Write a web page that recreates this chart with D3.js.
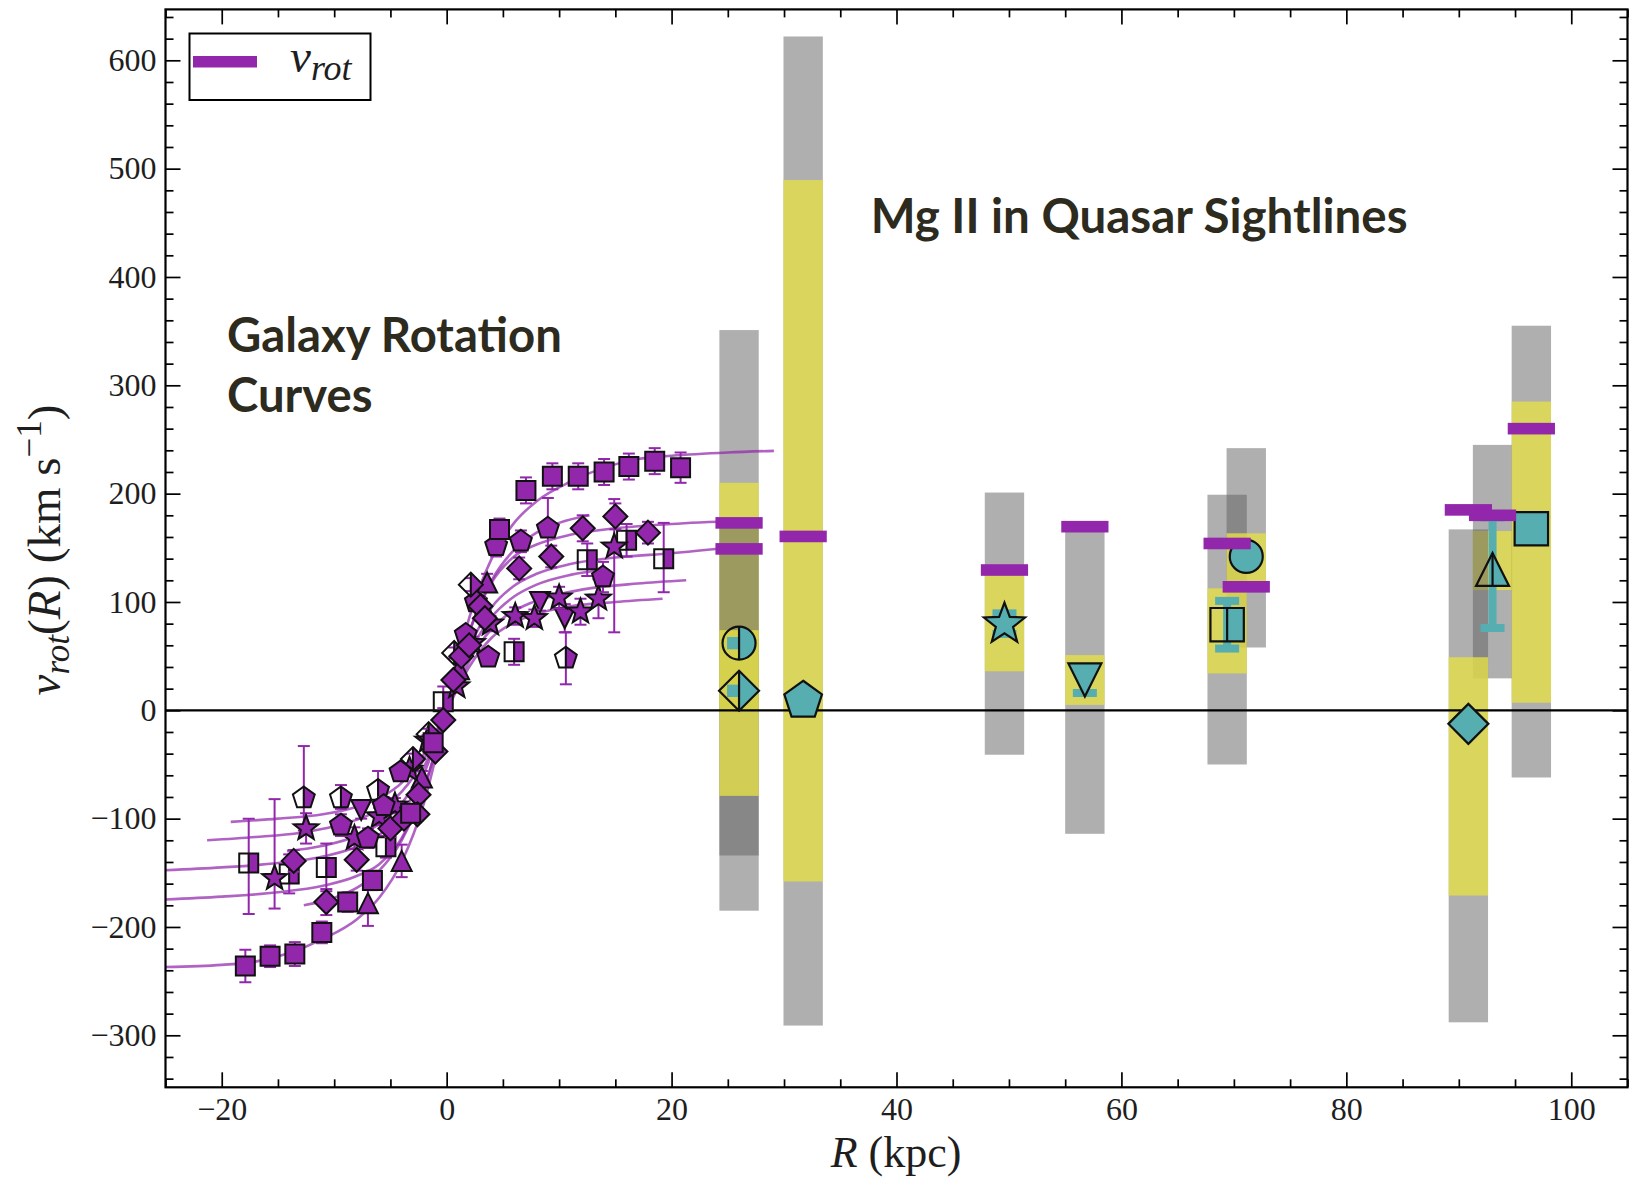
<!DOCTYPE html>
<html>
<head>
<meta charset="utf-8">
<title>Rotation velocity versus radius</title>
<script src="https://cdn.jsdelivr.net/npm/d3@7/dist/d3.min.js"></script>
<style>
  html, body { margin: 0; padding: 0; background: #ffffff; }
  svg { display: block; }
</style>
</head>
<body>
<svg id="chart" width="1633" height="1178"></svg>
<script>
// ---------------- axes ----------------
const xDomain = [-25, 105];
const yDomain = [-348, 647];
const xTickValues = [-20, 0, 20, 40, 60, 80, 100];
const xTickLabels = ["−20", "0", "20", "40", "60", "80", "100"];
const yTickValues = [-300, -200, -100, 0, 100, 200, 300, 400, 500, 600];
const yTickLabels = ["−300", "−200", "−100", "0", "100", "200", "300", "400", "500", "600"];

// ---------------- fitted rotation-curve models [R (kpc), v (km/s)] ----------------
const fitSquares = [[-25,-237],[-20,-235],[-17,-232],[-14,-224],[-11,-211],[-8,-193],[-6,-173],[-4,-140],[-2,-85],[0,0],[2,85],[4,140],[6,173],[8,193],[11,211],[14,224],[17,232],[20,235],[25,238],[29.1,239.5]];
const fitDiamonds = [[-26,-175],[-20,-172],[-15,-168],[-11,-162],[-8,-153],[-6,-142],[-4,-118],[-2,-72],[0,0],[2,72],[4,118],[6,142],[8,153],[11,162],[15,168],[20,172],[26,175]];
const fitOpenSquares = [[-26,-148],[-20,-145],[-15,-141],[-11,-135],[-8,-126],[-6,-115],[-4,-95],[-2,-58],[0,0],[2,58],[4,95],[6,115],[8,126],[11,135],[15,141],[20,145],[25,150]];
const fitStars = [[-21.3,-120],[-17,-117],[-13,-113],[-10,-107],[-7,-97],[-5,-85],[-3,-62],[-1.5,-35],[0,0],[1.5,35],[3,62],[5,85],[7,97],[10,107],[13,113],[17,117],[21.3,120]];
const fitOpenPentagons = [[-19.2,-103],[-15,-100],[-11,-96],[-8,-89],[-6,-81],[-4,-67],[-2,-40],[0,0],[2,40],[4,67],[6,81],[8,89],[11,96],[15,100],[19.2,103]];
const fitTriangles = [[-12.7,-180],[-10,-173],[-8,-164],[-6,-148],[-4,-120],[-2,-72],[0,0],[2,72],[4,120],[6,148],[8,164],[10,173],[12.7,180]];
const fitPentagons = [[-14.2,-130],[-11,-125],[-8,-116],[-6,-105],[-4,-86],[-2,-52],[0,0],[2,52],[4,86],[6,105],[8,116],[11,125],[14.2,130]];

// ---------------- rotation-curve measurements [R, v, err-, err+] ----------------
const galSquareFull = [[-17.9,-236,15,15],[-15.7,-227,10,10],[-13.5,-225,11,11],[-11.1,-205,10,10],[-8.8,-177,9,9],[-6.6,-157,9,9],[-3.2,-95,7,7],[-1.2,-30,6,6],[4.7,167,10,10],[7.05,203,12,12],[9.4,216,12,12],[11.7,216,12,12],[14.0,220,12,12],[16.2,225,12,12],[18.5,230,12,12],[20.8,224,14,14]];
const galDiamondFull = [[-13.6,-139,10,10],[-10.7,-177,12,12],[-8.0,-138,10,10],[-5.0,-109,8,8],[-3.8,-100,6,6],[-2.5,-78,6,6],[-2.6,-96,6,6],[-1.0,-38,5,5],[-0.3,-9,5,5],[0.6,28,5,5],[1.3,50,5,5],[2.0,60,6,6],[3.0,96,8,8],[3.4,85,8,8],[6.45,131,10,10],[9.3,142,10,10],[12.1,168,12,12],[15.0,179,12,12],[17.9,164,10,10]];
const galPentagonFull = [[-9.4,-106,10,10],[-7.0,-118,9,9],[-5.6,-88,8,8],[-4.1,-57,6,6],[1.7,70,6,6],[2.6,100,8,8],[3.7,49,6,6],[4.4,152,10,10],[6.6,156,10,10],[9.0,168,26,28],[13.9,123,14,14]];
const galPentagonHalf = [[-12.7,-81,30,48],[-9.4,-81,10,12],[-6.1,-74,12,18],[10.6,48,24,24]];
const galStarFull = [[-15.3,-155,28,73],[-12.5,-109,14,14],[-8.2,-118,10,10],[-6.0,-98,8,8],[-4.6,-88,7,7],[-3.3,-55,6,6],[-1.7,-28,5,5],[0.9,22,5,5],[2.3,62,6,6],[3.9,80,7,7],[6.1,87,8,8],[7.8,85,8,8],[10.0,104,10,10],[11.9,91,12,12],[13.5,103,18,18],[14.9,151,79,44]];
const galTriDownFull = [[10.5,85,13,13],[8.3,100,8,8],[-7.6,-92,8,8]];
const galTriUpFull = [[-7.0,-178,21,21],[-4.0,-139,15,15],[-2.2,-62,6,6],[1.1,38,5,5],[3.6,118,8,8]];
const galDiamondHalf = [[0.67,53,5,5],[2.15,116,6,6],[-1.6,-22,5,5],[-3.0,-45,5,5]];
const galSquareHalf = [[-17.6,-141,47,41],[-14.0,-151,18,18],[-10.7,-145,22,22],[-5.4,-126,10,10],[-0.3,8,6,14],[6.0,54,12,12],[12.5,139,15,15],[16.0,157,15,15],[19.3,140,31,33]];

// ---------------- Mg II absorbers in quasar sightlines ----------------
const qsoR      = [26.0, 26.0, 31.7, 49.6, 56.75, 69.4, 71.1, 90.85, 93.0, 96.45];
const grayLo    = [-185, -134, -291, -41, -114, -50, 58, -288, 29.5, -62];
const grayHi    = [351, 170, 622, 201, 168, 199, 242, 167, 245, 355];
const yellowLo  = [0, -79, -158, 36, 5, 34, 112, -171, 111, 7];
const yellowHi  = [210, 74, 489.5, 128, 51, 112.6, 163.4, 49, 165.5, 285];
const vRotModel = [173, 149, 160.5, 129.5, 169.5, 154, 114, 185, 180, 260];
const vMgII     = [18, 62, 9, 79.5, 28, 79, 142, -12.5, 130, 167.6];
const vMgErrLo  = [2, 2, 0, 9, 12, 22, 0, 0, 54, 0];
const vMgErrHi  = [2, 2, 0, 10, 12, 22, 0, 0, 48, 0];
const qsoMarker = ["diamond", "circle", "pentagon", "star", "triangle-down", "square", "circle", "diamond", "triangle-up", "square"];
const qsoFill   = ["right", "right", "full", "full", "full", "right", "full", "full", "right", "full"];
// stacking order of the velocity-range bands [sightline, band]
const bandOrder = [[0,"gray"],[0,"yellow"],[1,"gray"],[1,"yellow"],[2,"gray"],[2,"yellow"],[3,"gray"],[3,"yellow"],
                   [4,"gray"],[4,"yellow"],[5,"gray"],[6,"gray"],[5,"yellow"],[6,"yellow"],
                   [8,"gray"],[8,"yellow"],[7,"gray"],[7,"yellow"],[9,"gray"],[9,"yellow"]];

// ---------------- drawing ----------------
const W = 1633, H = 1178;
const M = { left: 165.5, right: 1627.5, top: 9.4, bottom: 1087.3 };
const PURPLE = "#9227ac", TEAL = "#57aeb1";
const SERIF = "'Liberation Serif', 'DejaVu Serif', serif";

const svg = d3.select("#chart");
const x = d3.scaleLinear().domain(xDomain).range([M.left, M.right]);
const y = d3.scaleLinear().domain(yDomain).range([M.bottom, M.top]);

const defs = svg.append("defs");
defs.append("clipPath").attr("id", "plot-clip").append("rect")
  .attr("x", M.left).attr("y", M.top).attr("width", M.right - M.left).attr("height", M.bottom - M.top);
defs.append("clipPath").attr("id", "right-half").attr("clipPathUnits", "objectBoundingBox").append("rect")
  .attr("x", 0.5).attr("y", -0.2).attr("width", 0.8).attr("height", 1.4);

svg.append("rect").attr("width", W).attr("height", H).attr("fill", "#fff");
const plotG = svg.append("g").attr("clip-path", "url(#plot-clip)");

// velocity-range bands
const bandW = 3.5;
const bands = plotG.append("g");
bandOrder.forEach(([i, kind]) => {
  const lo = kind === "gray" ? grayLo[i] : yellowLo[i];
  const hi = kind === "gray" ? grayHi[i] : yellowHi[i];
  bands.append("rect")
    .attr("x", x(qsoR[i] - bandW / 2))
    .attr("width", x(qsoR[i] + bandW / 2) - x(qsoR[i] - bandW / 2))
    .attr("y", y(hi)).attr("height", y(lo) - y(hi))
    .attr("fill", kind === "gray" ? "#606060" : "#e3de49")
    .attr("fill-opacity", kind === "gray" ? 0.5 : 0.8);
});

// zero-velocity line
plotG.append("line")
  .attr("x1", M.left).attr("x2", M.right).attr("y1", y(0)).attr("y2", y(0))
  .attr("stroke", "#000").attr("stroke-width", 2.2);

// model curves
const line = d3.line().x(d => x(d[0])).y(d => y(d[1])).curve(d3.curveMonotoneX);
[fitSquares, fitDiamonds, fitOpenSquares, fitStars, fitOpenPentagons, fitTriangles, fitPentagons].forEach(c => {
  plotG.append("path").attr("d", line(c)).attr("fill", "none")
    .attr("stroke", PURPLE).attr("stroke-width", 2.6).attr("stroke-opacity", 0.72);
});

// marker geometry
function polygon(n, r, rot, inner) {
  const pts = [];
  const steps = inner ? 2 * n : n;
  for (let k = 0; k < steps; k++) {
    const a = (rot + k * 360 / steps) * Math.PI / 180;
    const rr = inner && k % 2 === 1 ? inner : r;
    pts.push([rr * Math.cos(a), rr * Math.sin(a)]);
  }
  return "M" + pts.map(p => p[0].toFixed(2) + "," + p[1].toFixed(2)).join("L") + "Z";
}
function shapePath(shape, s) {
  switch (shape) {
    case "square": return `M${-s},${-s}H${s}V${s}H${-s}Z`;
    case "diamond": return `M0,${-s}L${s},0L0,${s}L${-s},0Z`;
    case "triangle-up": return `M0,${-s}L${s},${s}L${-s},${s}Z`;
    case "triangle-down": return `M0,${s}L${s},${-s}L${-s},${-s}Z`;
    case "pentagon": return polygon(5, s, -90);
    case "star": return polygon(5, s, -90, s * 0.42);
    default: return `M${-s},0A${s},${s} 0 1 0 ${s},0A${s},${s} 0 1 0 ${-s},0Z`;
  }
}
function dividerSpan(shape, s) {
  switch (shape) {
    case "pentagon": return [-s, s * 0.809];
    case "star": return [-s, s * 0.42];
    default: return [-s, s];
  }
}
function drawMarker(g, shape, fill, s, color, sw) {
  const d = shapePath(shape, s);
  if (fill === "full") {
    g.append("path").attr("d", d).attr("fill", color).attr("stroke", "#111").attr("stroke-width", sw).attr("stroke-linejoin", "miter");
  } else {
    g.append("path").attr("d", d).attr("fill", color).attr("clip-path", "url(#right-half)");
    g.append("path").attr("d", d).attr("fill", "none").attr("stroke", "#111").attr("stroke-width", sw);
    const [t, b] = dividerSpan(shape, s);
    g.append("line").attr("x1", 0).attr("x2", 0).attr("y1", t).attr("y2", b).attr("stroke", "#111").attr("stroke-width", sw);
  }
}

// rotation-curve data points
const galGroups = [
  { pts: galSquareHalf, shape: "square", fill: "right", s: 9.5 },
  { pts: galPentagonHalf, shape: "pentagon", fill: "right", s: 11.5 },
  { pts: galTriUpFull, shape: "triangle-up", fill: "full", s: 10 },
  { pts: galTriDownFull, shape: "triangle-down", fill: "full", s: 10 },
  { pts: galStarFull, shape: "star", fill: "full", s: 13 },
  { pts: galPentagonFull, shape: "pentagon", fill: "full", s: 11.5 },
  { pts: galDiamondHalf, shape: "diamond", fill: "right", s: 12 },
  { pts: galDiamondFull, shape: "diamond", fill: "full", s: 12 },
  { pts: galSquareFull, shape: "square", fill: "full", s: 9.5 }
];
const galG = plotG.append("g");
galGroups.forEach(grp => {
  const eg = galG.append("g").attr("stroke", PURPLE).attr("stroke-width", 2);
  grp.pts.forEach(p => {
    const cx = x(p[0]), y1 = y(p[1] - p[2]), y2 = y(p[1] + p[3]);
    eg.append("line").attr("x1", cx).attr("x2", cx).attr("y1", y1).attr("y2", y2);
    eg.append("line").attr("x1", cx - 6).attr("x2", cx + 6).attr("y1", y1).attr("y2", y1);
    eg.append("line").attr("x1", cx - 6).attr("x2", cx + 6).attr("y1", y2).attr("y2", y2);
  });
  grp.pts.forEach(p => {
    const g = galG.append("g").attr("transform", `translate(${x(p[0])},${y(p[1])})`);
    drawMarker(g, grp.shape, grp.fill, grp.s, PURPLE, 2);
  });
});

// Mg II velocities
const qsoSize = { "diamond": 20, "circle": 16.5, "pentagon": 19.8, "star": 21.6, "triangle-down": 16.5, "triangle-up": 16.5, "square": 16.7 };
const qG = plotG.append("g");
qsoR.forEach((r, i) => {
  if (vMgErrLo[i] + vMgErrHi[i] > 0) {
    const cx = x(r), y1 = y(vMgII[i] - vMgErrLo[i]), y2 = y(vMgII[i] + vMgErrHi[i]);
    const eg = qG.append("g").attr("stroke", TEAL).attr("stroke-width", 8);
    eg.append("line").attr("x1", cx).attr("x2", cx).attr("y1", y1).attr("y2", y2);
    eg.append("line").attr("x1", cx - 12).attr("x2", cx + 12).attr("y1", y1).attr("y2", y1);
    eg.append("line").attr("x1", cx - 12).attr("x2", cx + 12).attr("y1", y2).attr("y2", y2);
  }
});
qsoR.forEach((r, i) => {
  const g = qG.append("g").attr("transform", `translate(${x(r)},${y(vMgII[i])})`);
  drawMarker(g, qsoMarker[i], qsoFill[i], qsoSize[qsoMarker[i]], TEAL, 2.2);
});

// model rotation speed at each sightline
const vrotW = 4.2;
qsoR.forEach((r, i) => {
  plotG.append("rect")
    .attr("x", x(r - vrotW / 2)).attr("width", x(r + vrotW / 2) - x(r - vrotW / 2))
    .attr("y", y(vRotModel[i]) - 5.8).attr("height", 11.6)
    .attr("fill", PURPLE);
});

// ---------------- frame and ticks ----------------
const axG = svg.append("g");
function styleAxis(sel) {
  sel.select(".domain").remove();
  sel.selectAll("line").attr("stroke", "#000").attr("stroke-width", 1.7);
  sel.selectAll("text").attr("font-family", SERIF).attr("font-size", 32).attr("fill", "#1e1e1e");
}
const xMinor = d3.range(-25, 106, 5).filter(v => v % 20 !== 0);
const yMinor = d3.range(-340, 647, 20).filter(v => v % 100 !== 0);

axG.append("g").attr("transform", `translate(0,${M.bottom})`)
  .call(d3.axisBottom(x).tickValues(xTickValues).tickFormat((d, i) => xTickLabels[i]).tickSizeInner(-15).tickSizeOuter(0).tickPadding(10)).call(styleAxis);
axG.append("g").attr("transform", `translate(0,${M.bottom})`)
  .call(d3.axisBottom(x).tickValues(xMinor).tickFormat("").tickSizeInner(-8).tickSizeOuter(0)).call(styleAxis);
axG.append("g").attr("transform", `translate(0,${M.top})`)
  .call(d3.axisTop(x).tickValues(xTickValues).tickFormat("").tickSizeInner(-15).tickSizeOuter(0)).call(styleAxis);
axG.append("g").attr("transform", `translate(0,${M.top})`)
  .call(d3.axisTop(x).tickValues(xMinor).tickFormat("").tickSizeInner(-8).tickSizeOuter(0)).call(styleAxis);
axG.append("g").attr("transform", `translate(${M.left},0)`)
  .call(d3.axisLeft(y).tickValues(yTickValues).tickFormat((d, i) => yTickLabels[i]).tickSizeInner(-15).tickSizeOuter(0).tickPadding(9)).call(styleAxis);
axG.append("g").attr("transform", `translate(${M.left},0)`)
  .call(d3.axisLeft(y).tickValues(yMinor).tickFormat("").tickSizeInner(-8).tickSizeOuter(0)).call(styleAxis);
axG.append("g").attr("transform", `translate(${M.right},0)`)
  .call(d3.axisRight(y).tickValues(yTickValues).tickFormat("").tickSizeInner(-15).tickSizeOuter(0)).call(styleAxis);
axG.append("g").attr("transform", `translate(${M.right},0)`)
  .call(d3.axisRight(y).tickValues(yMinor).tickFormat("").tickSizeInner(-8).tickSizeOuter(0)).call(styleAxis);

svg.append("rect").attr("x", M.left).attr("y", M.top)
  .attr("width", M.right - M.left).attr("height", M.bottom - M.top)
  .attr("fill", "none").attr("stroke", "#000").attr("stroke-width", 2.2);

// axis titles
const xt = svg.append("text").attr("x", 896).attr("y", 1167).attr("text-anchor", "middle")
  .attr("font-family", SERIF).attr("font-size", 44).attr("fill", "#1e1e1e");
xt.append("tspan").attr("font-style", "italic").text("R");
xt.append("tspan").text(" (kpc)");

const yt = svg.append("text").attr("transform", "translate(60,550) rotate(-90)").attr("text-anchor", "middle")
  .attr("font-family", SERIF).attr("font-size", 47).attr("fill", "#1e1e1e");
yt.append("tspan").attr("font-style", "italic").text("v");
yt.append("tspan").attr("font-style", "italic").attr("font-size", 35).attr("dy", 9).text("rot");
yt.append("tspan").attr("dy", -9).text("(");
yt.append("tspan").attr("font-style", "italic").text("R");
yt.append("tspan").text(") (km s");
yt.append("tspan").attr("font-size", 35).attr("dy", -19).text("−1");
yt.append("tspan").attr("dy", 19).text(")");

// legend
const lg = svg.append("g");
lg.append("rect").attr("x", 189.5).attr("y", 33.5).attr("width", 181).attr("height", 66.5)
  .attr("fill", "#fff").attr("stroke", "#000").attr("stroke-width", 2);
lg.append("rect").attr("x", 193).attr("y", 56).attr("width", 64).attr("height", 11.5).attr("fill", PURPLE);
const lt = lg.append("text").attr("x", 290).attr("y", 71.7).attr("font-family", SERIF).attr("fill", "#1e1e1e");
lt.append("tspan").attr("font-style", "italic").attr("font-size", 47).text("v");
lt.append("tspan").attr("font-style", "italic").attr("font-size", 36).attr("dy", 8.5).text("rot");

// panel annotations
const SANS = "Lato, 'Open Sans', 'DejaVu Sans', sans-serif";
function fitText(sel, target) {
  const w = sel.node().getComputedTextLength();
  const fs = +sel.attr("font-size");
  sel.attr("font-size", fs * target / w);
  return fs * target / w;
}
const g1 = svg.append("text").attr("x", 227).attr("y", 351.7).attr("font-family", SANS)
  .attr("font-weight", 700).attr("font-size", 44).attr("fill", "#2d2a1e").text("Galaxy Rotation");
const fsGal = fitText(g1, 335);
svg.append("text").attr("x", 227).attr("y", 411.5).attr("font-family", SANS)
  .attr("font-weight", 700).attr("font-size", fsGal).attr("fill", "#2d2a1e").text("Curves");
const g3 = svg.append("text").attr("x", 870.7).attr("y", 233.3).attr("font-family", SANS)
  .attr("font-weight", 700).attr("font-size", 44).attr("fill", "#2d2a1e").text("Mg II in Quasar Sightlines");
fitText(g3, 537);
</script>
</body>
</html>
